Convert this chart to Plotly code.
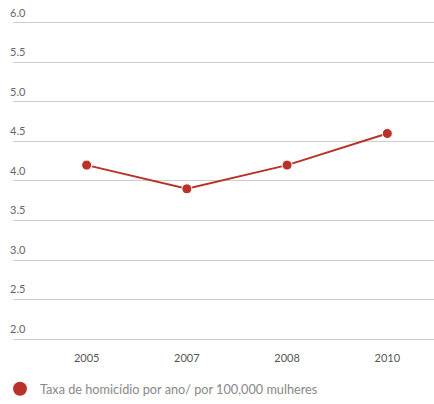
import plotly.graph_objects as go

years = ["2005", "2007", "2008", "2010"]
rates = [4.2, 3.9, 4.2, 4.6]
y_ticks = [2.0, 2.5, 3.0, 3.5, 4.0, 4.5, 5.0, 5.5, 6.0]
series_name = "Taxa de homicídio por ano/ por 100,000 mulheres"

RED = "#b8322a"

fig = go.Figure()
fig.add_trace(go.Scatter(
    x=years, y=rates, mode="lines+markers",
    line=dict(color=RED, width=2),
    marker=dict(color=RED, size=10, line=dict(color="white", width=1)),
    showlegend=False, hoverinfo="x+y",
))
fig.add_trace(go.Scatter(
    x=[None], y=[None], mode="markers", name=series_name,
    marker=dict(color=RED, size=14),
    showlegend=True,
))

# vertical grid lines spanning only the tick range
for yr in years:
    fig.add_shape(type="line", xref="x", yref="y", x0=yr, x1=yr,
                  y0=min(y_ticks), y1=max(y_ticks),
                  line=dict(color="#dddddd", width=1), layer="below")

fig.update_layout(
    width=434, height=404,
    margin=dict(l=11, r=0, t=3, b=53),
    paper_bgcolor="white", plot_bgcolor="white",
    font=dict(family="Lato", size=11, color="#555"),
    xaxis=dict(
        type="category", range=[-0.735, 3.466],
        showgrid=False,
        showline=False, zeroline=False, ticks="",
        tickfont=dict(size=11, color="#555"),
        ticklabelstandoff=3,
    ),
    yaxis=dict(
        range=[1.9, 6.25], tickvals=y_ticks,
        ticktext=[f"{v:.1f}" for v in y_ticks],
        showgrid=True, gridcolor="#cccccc", gridwidth=1,
        zeroline=False, showline=False, ticks="",
        ticklabelposition="inside", ticklabelshift=-10,
        ticklabelstandoff=-6,
        tickfont=dict(size=11, color="#666"),
    ),
    legend=dict(
        orientation="h", x=-0.031, xanchor="left", y=-0.1236, yanchor="middle",
        font=dict(size=12.7, color="#888"), itemwidth=30,
    ),
)

fig.write_html("out.html")
